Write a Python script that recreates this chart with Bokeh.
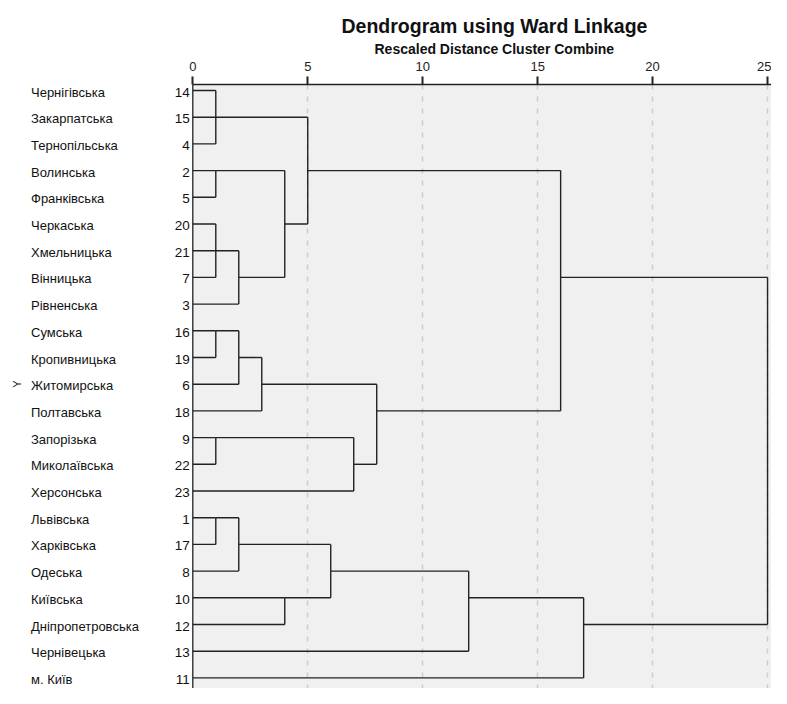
import math
from bokeh.plotting import figure
from bokeh.models import ColumnDataSource, Range1d, FixedTicker, Title, Span
from bokeh.core.properties import value
from bokeh.embed import file_html
from bokeh.resources import INLINE

# ---- data -------------------------------------------------------------
leaf_numbers = [14, 15, 4, 2, 5, 20, 21, 7, 3, 16, 19, 6, 18, 9, 22, 23, 1, 17, 8, 10, 12, 13, 11]
leaf_names = ["Чернігівська", "Закарпатська", "Тернопільська", "Волинська", "Франківська",
              "Черкаська", "Хмельницька", "Вінницька", "Рівненська", "Сумська",
              "Кропивницька", "Житомирська", "Полтавська", "Запорізька", "Миколаївська",
              "Херсонська", "Львівська", "Харківська", "Одеська", "Київська",
              "Дніпропетровська", "Чернівецька", "м. Київ"]

# agglomeration schedule: merge k creates cluster "C<k>"
merge_a = [14, "C0", 2, 20, "C3", "C4", "C2", "C1", 16, "C8", "C9", 9, "C11", "C10", "C7",
           1, "C15", 10, "C16", "C18", "C19", "C14"]
merge_b = [4, 15, 5, 7, 21, 3, "C5", "C6", 19, 6, 18, 22, 23, "C12", "C13",
           17, 8, 12, "C17", 13, 11, "C20"]
merge_height = [1, 1, 1, 1, 1, 2, 4, 5, 1, 2, 3, 1, 7, 8, 16, 1, 2, 4, 6, 12, 17, 25]

axis_ticks = [0, 5, 10, 15, 20, 25]
title_text = "Dendrogram using Ward Linkage"
subtitle_text = "Rescaled Distance Cluster Combine"
y_label = "Y"

# ---- geometry from the schedule --------------------------------------
pos = {n: i for i, n in enumerate(leaf_numbers)}
hgt = {n: 0.0 for n in leaf_numbers}
x0, y0, x1, y1 = [], [], [], []
for k, (a, b, h) in enumerate(zip(merge_a, merge_b, merge_height)):
    ya, yb = pos[a], pos[b]
    x0 += [hgt[a], hgt[b], h]
    y0 += [ya, yb, ya]
    x1 += [h, h, h]
    y1 += [ya, yb, yb]
    pos["C%d" % k] = math.floor((ya + yb) / 2)
    hgt["C%d" % k] = h

segs = ColumnDataSource(dict(x0=x0, y0=y0, x1=x1, y1=y1))
labels = ColumnDataSource(dict(y=list(range(len(leaf_numbers))),
                               name=leaf_names,
                               num=[str(n) for n in leaf_numbers]))

# ---- figure -----------------------------------------------------------
W, H = 771, 688
px_per_unit = 22.99
x_start = -192.3 / px_per_unit
x_end = x_start + W / px_per_unit
top_border = 84
first_row_px = 90
row_px = 26.7
y_top = (top_border - first_row_px) / row_px
y_bottom = (H - first_row_px) / row_px

p = figure(width=W, height=H, output_backend="svg", toolbar_location=None,
           x_range=Range1d(x_start, x_end), y_range=Range1d(y_bottom, y_top),
           x_axis_location="above", y_axis_location=None,
           min_border_left=0, min_border_right=0, min_border_bottom=0,
           min_border_top=top_border, outline_line_color=None,
           background_fill_color="white", border_fill_color="white")

p.add_layout(Title(text=subtitle_text, align="left", text_font="Liberation Sans",
                   text_font_size="14px", text_font_style="bold", text_color="#111111",
                   offset=374, standoff=3), "above")
p.add_layout(Title(text=title_text, align="left", text_font="Liberation Sans",
                   text_font_size="19.5px", text_font_style="bold", text_color="#111111",
                   offset=341, standoff=2), "above")

# plot area background
bg = p.quad(left=[0], right=[x_end + 1], top=[y_top - 1], bottom=[y_bottom + 1],
            fill_color="#f0f0f0", line_color=None)
bg.level = "image"

ax = p.xaxis[0]
ax.ticker = FixedTicker(ticks=axis_ticks)
ax.bounds = (0, x_end)
ax.axis_line_color = "#222222"
ax.axis_line_width = 1.5
ax.major_tick_line_color = "#222222"
ax.major_tick_line_width = 2
ax.major_tick_out = 8
ax.major_tick_in = 0
ax.minor_tick_line_color = None
ax.major_label_standoff = 6
ax.major_label_text_font = "Liberation Sans"
ax.major_label_text_font_size = "13px"
ax.major_label_text_color = "#222222"

p.xgrid.ticker = FixedTicker(ticks=axis_ticks[1:])
p.xgrid.grid_line_color = "#cccccc"
p.xgrid.grid_line_width = 1.5
p.xgrid.grid_line_dash = "5 7"
p.ygrid.visible = False

p.add_layout(Span(location=0, dimension="height", line_color="#222222", line_width=1.3))

p.segment(x0="x0", y0="y0", x1="x1", y1="y1", source=segs, line_color="#222222", line_width=1.4)

p.text(x=x_start + 30.5 / px_per_unit, y="y", text="name", source=labels,
       text_font=value("Liberation Sans"), text_font_size="13px", text_color="#111111",
       text_align="left", text_baseline="middle", y_offset=1.5)
p.text(x=-3 / px_per_unit, y="y", text="num", source=labels,
       text_font=value("Liberation Sans"), text_font_size="13.5px", text_color="#111111",
       text_align="right", text_baseline="middle", y_offset=1.5)
p.text(x=[x_start + 16 / px_per_unit], y=[(len(leaf_numbers) - 1) / 2], text=[y_label],
       angle=math.pi / 2, text_font=value("Liberation Sans"), text_font_size="11px",
       text_color="#111111", text_align="center", text_baseline="middle")

open("out.html", "w").write(file_html(p, INLINE))
